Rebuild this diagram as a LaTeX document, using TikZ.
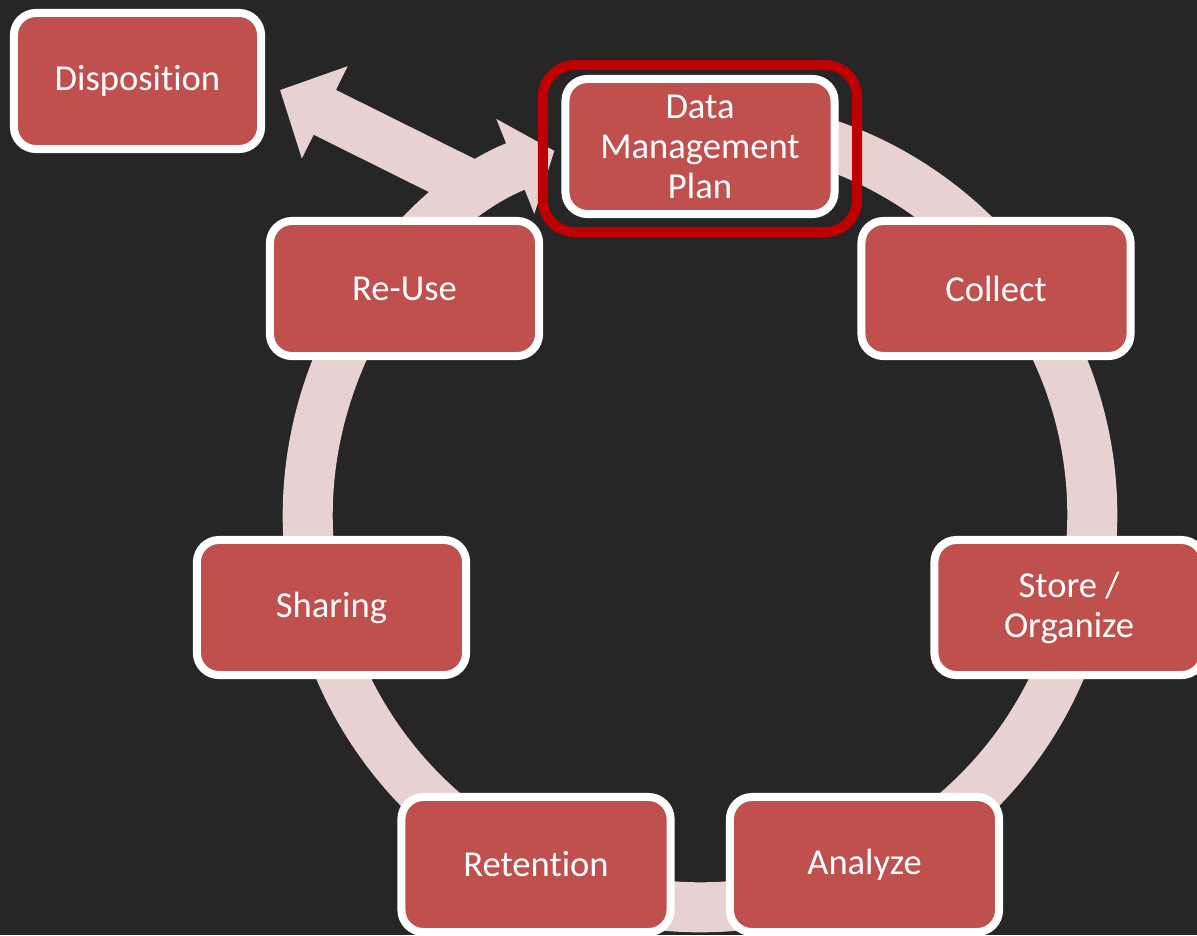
\documentclass[tikz,border=0pt]{standalone}
\usepackage{fontspec}
\setmainfont{Carlito}[Ligatures=NoCommon]
\usetikzlibrary{arrows.meta,shadows}
\definecolor{bgdark}{HTML}{262626}
\definecolor{boxred}{HTML}{C0504D}
\definecolor{ringpink}{HTML}{E7D1D1}
\definecolor{framered}{HTML}{C00000}

\begin{document}
\begin{tikzpicture}[x=0.01cm,y=0.01cm,
  stage/.style={draw=white, line width=0.08cm, fill=boxred,
    rounded corners=0.22cm, minimum width=2.69cm, minimum height=1.35cm,
    text=white, align=center, inner sep=0pt,
    font=\fontsize{10.4pt}{11.4pt}\selectfont,
    drop shadow={opacity=0.35, shadow xshift=0.02cm, shadow yshift=-0.03cm}},
  flow/.style={draw=ringpink, line width=0.5cm,
    -{Triangle[length=0.42cm, width=1cm]}},
  highlight/.style={draw=framered, line width=0.1cm, rounded corners=0.32cm,
    minimum width=3.14cm, minimum height=1.67cm, inner sep=0pt}]

% canvas
\useasboundingbox (0,0) rectangle (1197,-935);
\fill[bgdark] (0,0) rectangle (1197,-935);

% cycle ring with its arrow head pointing at the plan
\coordinate (hub) at (700,-515);
\draw[flow] (hub) ++(80:3.92cm) arc[start angle=80, end angle=-248.2, radius=3.92cm];

% arrow leaving the cycle towards disposition
\coordinate (dstart) at (481,-190);
\coordinate (dtip) at (280,-90);
\draw[flow, -{Triangle[length=0.5cm, width=1cm]}] (dstart) -- (dtip);

% stages
\node[stage, minimum width=2.47cm, minimum height=1.36cm] (disp) at (137.5,-81) {Disposition};
\node[stage] (dmp) at (700,-146.5) {Data\\Management\\Plan};
\node[stage] (collect) at (996,-288.5) {Collect};
\node[stage] (store) at (1069,-607.5) {Store /\\Organize};
\node[stage] (analyze) at (864.5,-864.5) {Analyze};
\node[stage] (retention) at (536,-864.5) {Retention};
\node[stage] (sharing) at (331.5,-607.5) {Sharing};
\node[stage] (reuse) at (404.5,-288.5) {Re-Use};

% frame around the current stage
\node[highlight] (dmpframe) at ([yshift=-0.02cm]dmp.center) {};
\end{tikzpicture}
\end{document}
